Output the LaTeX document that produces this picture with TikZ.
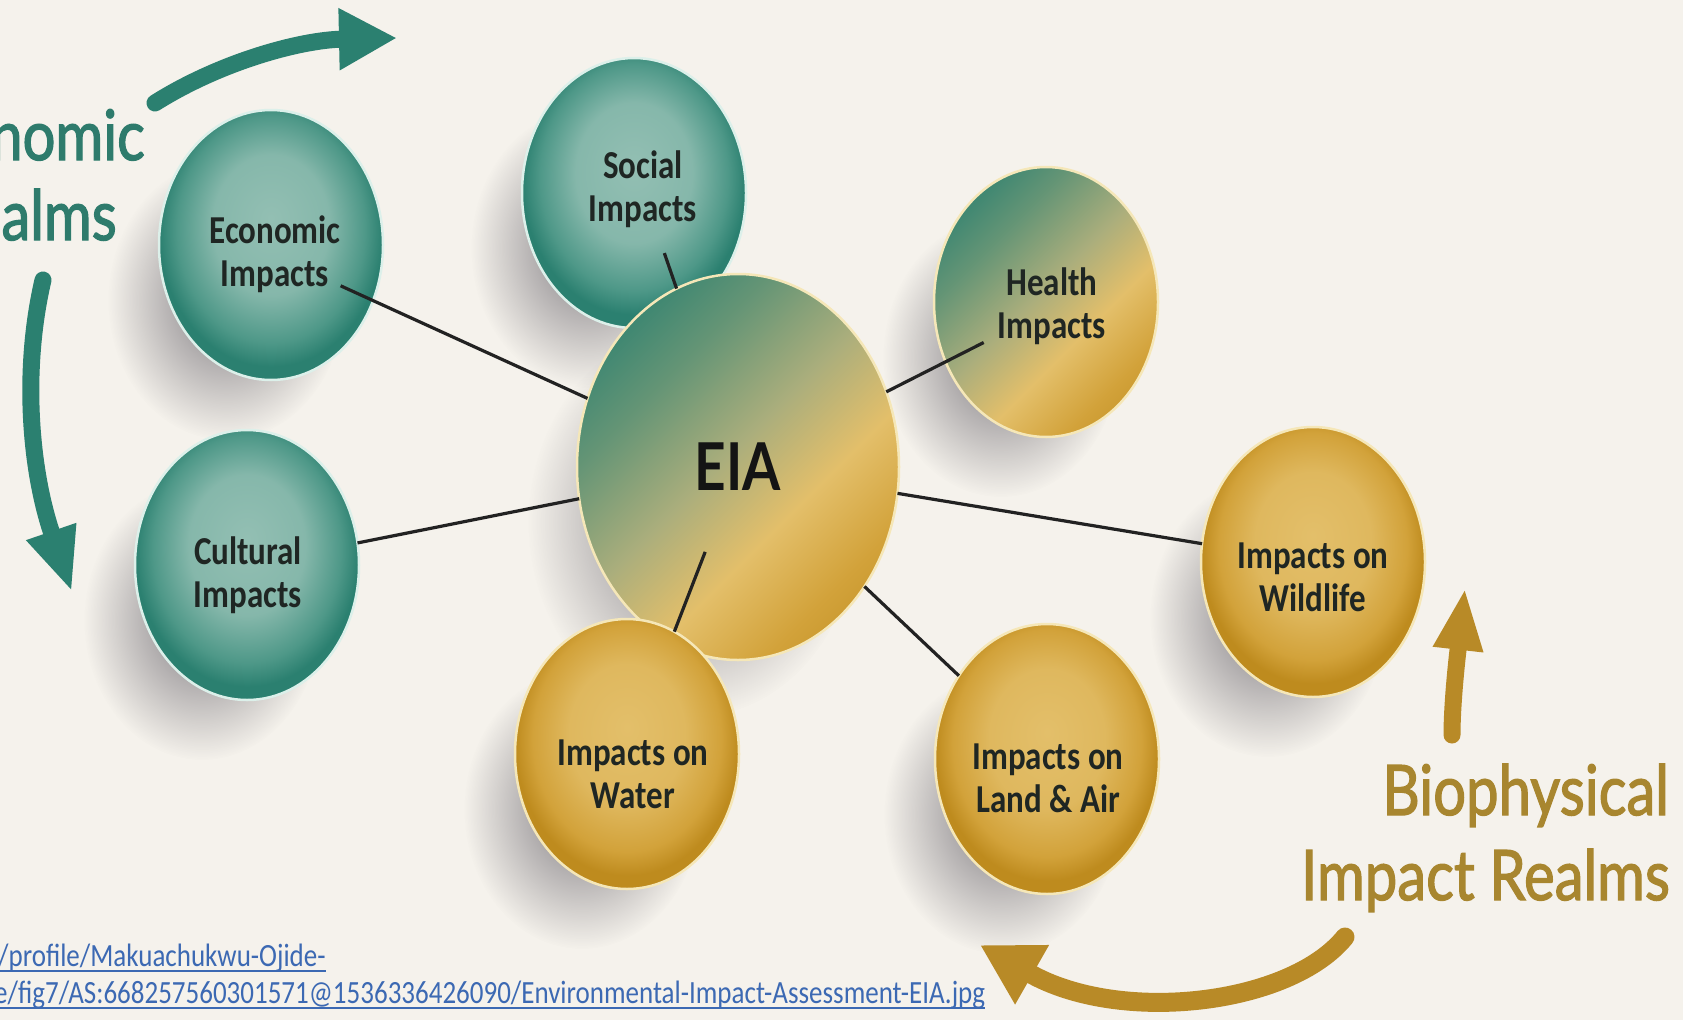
\documentclass[tikz,border=0pt]{standalone}
\usepackage{fontspec}
\usepackage{graphicx}
\setmainfont{Lato}
\newfontfamily\lblfont{Carlito}
\newfontfamily\headfont{Lato}[FakeBold=2]
\usetikzlibrary{arrows.meta,calc,fadings,shapes.geometric}

% palette
\definecolor{bgc}{HTML}{F5F2EC}
\definecolor{tealD}{HTML}{2B8070}
\definecolor{tealM}{HTML}{4E9888}
\definecolor{tealL}{HTML}{93BFB3}
\definecolor{goldD}{HTML}{BE8B1E}
\definecolor{goldM}{HTML}{D2A23A}
\definecolor{goldL}{HTML}{E3BF6A}
\definecolor{mixM}{HTML}{ABAE7C}
\definecolor{tealRim}{HTML}{DCF0EA}
\definecolor{goldRim}{HTML}{F5E7B8}
\definecolor{linkc}{HTML}{222222}
\definecolor{labelc}{HTML}{1F2623}
\definecolor{tealtxt}{HTML}{2E7B6C}
\definecolor{goldtxt}{HTML}{A8862F}
\definecolor{goldarr}{HTML}{B88A27}
\definecolor{urlc}{HTML}{3C69B3}
\definecolor{shadowc}{HTML}{5E5A63}

% sphere-like shadings
\pgfdeclareradialshading{tealsphere}{\pgfpoint{0bp}{5bp}}{color(0bp)=(tealL); color(13bp)=(tealL!80!tealM); color(21bp)=(tealM); color(25bp)=(tealD); color(50bp)=(tealD)}
\pgfdeclareradialshading{goldsphere}{\pgfpoint{0bp}{5bp}}{color(0bp)=(goldL); color(13bp)=(goldL!75!goldM); color(21bp)=(goldM); color(25bp)=(goldD); color(50bp)=(goldD)}
\pgfdeclarehorizontalshading{mixsphere}{100bp}{color(0bp)=(tealD); color(20bp)=(tealD); color(34bp)=(tealD!55!mixM); color(48bp)=(mixM); color(60bp)=(goldL); color(72bp)=(goldM); color(85bp)=(goldD); color(100bp)=(goldD)}
\tikzfading[name=softshadow, inner color=transparent!20, outer color=transparent!100]

\newcommand{\vstr}[1]{\scalebox{1}[1.2]{#1}}
\newcommand{\twoline}[2]{\scalebox{1}[1.2]{\begin{tabular}{@{}c@{}}#1\\#2\end{tabular}}}

\tikzset{
  disc/.style={ellipse, minimum width=224pt, minimum height=270pt, inner sep=0pt, outer sep=0pt, line width=2.5pt},
  tealdisc/.style={disc, shade, shading=tealsphere, draw=tealRim},
  golddisc/.style={disc, shade, shading=goldsphere, draw=goldRim},
  mixdisc/.style={disc, shade, shading=mixsphere, shading angle=-45, draw=goldRim},
  lbl/.style={inner sep=0pt, outer sep=0pt, text=labelc, font=\lblfont\bfseries\fontsize{33}{36}\selectfont},
  link/.style={draw=linkc, line width=3.2pt},
  bigtxt/.style={inner sep=0pt, font=\headfont\fontsize{58}{60}\selectfont},
  bigarrow/.style={line width=17pt, line cap=round},
  urltxt/.style={inner sep=0pt, text=urlc, font=\lblfont\fontsize{27}{29}\selectfont},
  softshade/.style={fill=shadowc, path fading=softshadow},
}

\begin{document}
\begin{tikzpicture}[x=1pt, y=-1pt]
\useasboundingbox (0,0) rectangle (1683,1020);
\clip (0,0) rectangle (1683,1020);
\fill[bgc] (0,0) rectangle (1683,1020);

% centres of the spheres
\coordinate (pEco) at (271,245);
\coordinate (pSoc) at (634,193);
\coordinate (pHlt) at (1046,302);
\coordinate (pWild) at (1313,562);
\coordinate (pLand) at (1047,759);
\coordinate (pWater) at (627,754);
\coordinate (pCult) at (247,565);
\coordinate (pEia) at (738,467);

% soft drop shadows, lower left of each sphere
\foreach \c in {pEco,pSoc,pHlt,pWild,pLand,pWater,pCult}
  \fill[softshade] ($(\c)+(-45,55)$) ellipse [x radius=118, y radius=140];
\fill[softshade] ($(pEia)+(-45,55)$) ellipse [x radius=165, y radius=195];

% spheres (EIA overlaps Social, Water overlaps EIA)
\node[tealdisc] (soc) at (pSoc) {};
\node[mixdisc, minimum width=322pt, minimum height=386pt] (eia) at (pEia)
  {\vstr{\bfseries\fontsize{55}{60}\selectfont\color{black!92}EIA}};
\node[golddisc] (water) at (pWater) {};
\node[tealdisc] (eco) at (pEco) {};
\node[tealdisc] (cult) at (pCult) {};
\node[mixdisc] (hlt) at (pHlt) {};
\node[golddisc] (wild) at (pWild) {};
\node[golddisc] (land) at (pLand) {};

% sphere captions
\node[lbl] (ecoT) at (275,256) {\twoline{Economic}{Impacts}};
\node[lbl] (socT) at (643,191) {\twoline{Social}{Impacts}};
\node[lbl] (hltT) at (1052,308) {\twoline{Health}{Impacts}};
\node[lbl] (wildT) at (1313,581) {\twoline{Impacts on}{Wildlife}};
\node[lbl] (landT) at (1048,782) {\twoline{Impacts on}{Land \& Air}};
\node[lbl] (waterT) at (633,778) {\twoline{Impacts on}{Water}};
\node[lbl] (cultT) at (248,577) {\twoline{Cultural}{Impacts}};

% spokes from the EIA hub
\draw[link] (eia) -- (ecoT);
\draw[link] (eia) -- (cult);
\draw[link, shorten >=20pt] (eia) -- (socT);
\draw[link, shorten >=16pt] (eia) -- (hltT);
\draw[link] (eia) -- (wild);
\draw[link] (eia) -- (land);
\draw[link, shorten <=91pt] (eia.center) -- (water);

% realm headings
\node[bigtxt, text=tealtxt, anchor=base east] (nomicT) at (145,160) {\vstr{nomic}};
\node[bigtxt, text=tealtxt, anchor=base east] (almsT) at (117,240) {\vstr{alms}};
\node[bigtxt, text=goldtxt, anchor=base east] (bioT) at (1669,815) {\vstr{Biophysical}};
\node[bigtxt, text=goldtxt, anchor=base east] (realmT) at (1670,900) {\vstr{Impact Realms}};

% curved realm arrows
\coordinate (ta1) at (155,103);
\coordinate (ta2) at (397,38);
\draw[bigarrow, tealD, -{Triangle[length=58pt,width=58pt]}] (ta1) .. controls (220,62) and (300,40) .. (ta2);
\coordinate (la1) at (43,280);
\coordinate (la2) at (72,592);
\draw[bigarrow, tealD, -{Triangle[length=64pt,width=48pt]}] (la1) .. controls (22,370) and (30,470) .. (la2);
\coordinate (wa1) at (1452,735);
\coordinate (wa2) at (1465,588);
\draw[bigarrow, goldarr, -{Triangle[length=62pt,width=46pt]}] (wa1) .. controls (1452,700) and (1458,650) .. (wa2);
\coordinate (ba1) at (1345,937);
\coordinate (ba2) at (980,945);
\draw[bigarrow, line width=19pt, goldarr, -{Triangle[length=60pt,width=64pt]}] (ba1) .. controls (1290,1005) and (1120,1025) .. (ba2);

% source link
\node[urltxt, anchor=base west] (url1) at (-2,966) {\vstr{/profile/Makuachukwu-Ojide-}};
\node[urltxt, anchor=base west] (url2) at (-6,1003) {\vstr{e/fig7/AS:668257560301571@1536336426090/Environmental-Impact-Assessment-EIA.jpg}};
\draw[urlc, line width=1.6pt] ([yshift=-5pt]url1.base west) -- ([yshift=-5pt]url1.base east);
\draw[urlc, line width=1.6pt] ([yshift=-5pt]url2.base west) -- ([yshift=-5pt]url2.base east);
\end{tikzpicture}
\end{document}
